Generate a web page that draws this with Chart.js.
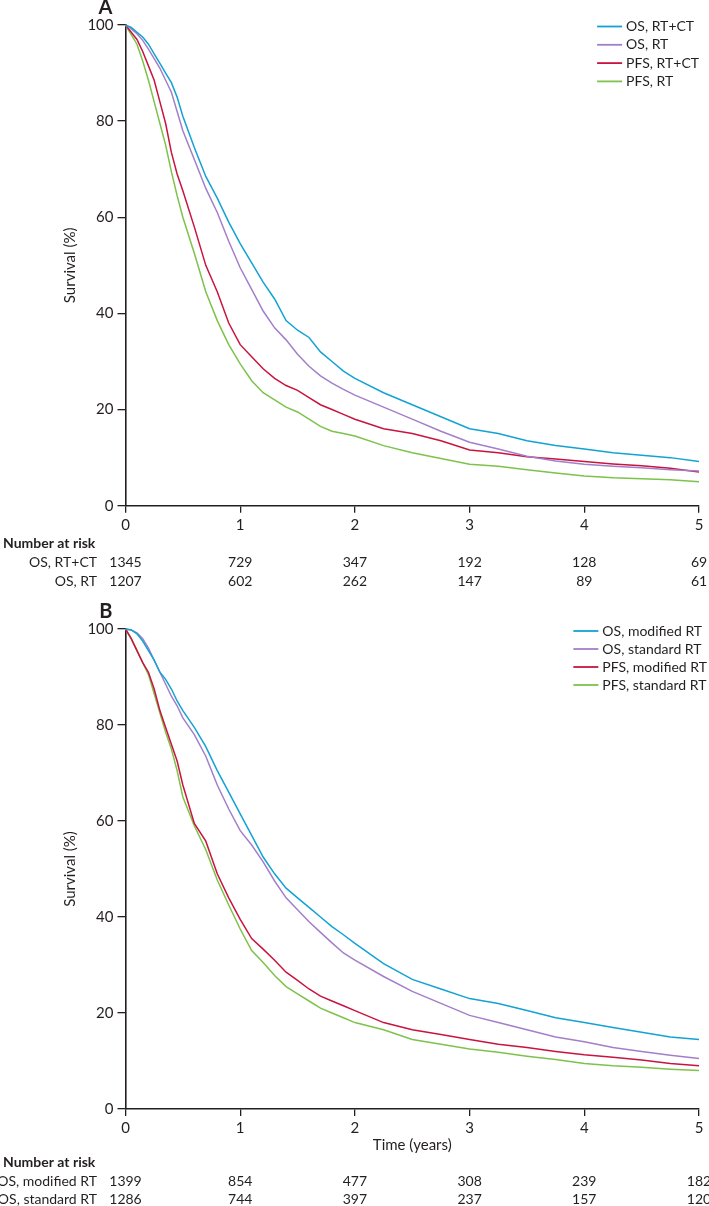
<!DOCTYPE html>
<html><head><meta charset="utf-8">
<script src="https://cdn.jsdelivr.net/npm/chart.js@4"></script>
<style>
html,body{margin:0;padding:0;background:#fff;}
#wrap{position:relative;width:709px;height:1206px;overflow:hidden;}
.box{position:absolute;left:0;width:709px;}
#boxA{top:0;height:600px;}
#boxB{top:600px;height:606px;}
</style></head><body>
<div id="wrap">
<div class="box" id="boxA"><canvas id="cA"></canvas></div>
<div class="box" id="boxB"><canvas id="cB"></canvas></div>
</div>
<script>
// ---- data ----
const years = [0,0.05,0.1,0.15,0.2,0.25,0.3,0.35,0.4,0.45,0.5,0.6,0.7,0.8,0.9,1.0,1.1,1.2,1.3,1.4,1.5,1.6,1.7,1.8,1.9,2.0,2.25,2.5,2.75,3.0,3.25,3.5,3.75,4.0,4.25,4.5,4.75,5.0];
const xTicks = [0,1,2,3,4,5];
const yTicks = [0,20,40,60,80,100];

// Panel A
const labelsA = ['OS, RT+CT','OS, RT','PFS, RT+CT','PFS, RT'];
const osRtCt  = [100,99.5,98.5,97.5,96,94,92,90,88,85,81,74.5,68.5,64,59,54.5,50.5,46.5,43,38.5,36.5,35,32,30,28,26.5,23.5,21,18.5,16,15,13.5,12.5,11.8,11,10.5,10,9.2];
const osRt    = [100,99.2,98.2,96.8,95,93,91,88.5,86,82,78,72,66,61,55,49.5,45,40.5,37,34.5,31.5,29,27,25.5,24.2,23,20.5,18,15.5,13.2,11.8,10.3,9.3,8.6,8.2,7.9,7.5,7.2];
const pfsRtCt = [100,98.5,97,94.5,91.5,88.5,84,79.5,73.5,69,65.5,58,50,44.5,38,33.5,31,28.5,26.5,25,24,22.5,21,20,19,18,16,15,13.5,11.6,11,10.2,9.7,9.2,8.7,8.3,7.8,7.0];
const pfsRt   = [100,98,96,92.5,88.5,84,79.5,75,69.5,64.5,60,52.5,44.5,38.5,33.5,29.5,26,23.5,22,20.5,19.5,18,16.5,15.5,15,14.5,12.5,11,9.8,8.6,8.2,7.5,6.8,6.2,5.8,5.6,5.4,5.0];
const riskRowsA = ['OS, RT+CT','OS, RT'];
const riskOsRtCt = [1345,729,347,192,128,69];
const riskOsRt   = [1207,602,262,147,89,61];

// Panel B
const labelsB = ['OS, modified RT','OS, standard RT','PFS, modified RT','PFS, standard RT'];
const osMod  = [100,99.8,99,97.5,95.5,93.5,91,89.5,87.5,85,83,79.5,75.5,70.5,66,61.5,57,52.5,49,46,44,42,40,38,36.3,34.5,30.3,27,25,23,22,20.5,19,18,17,16,15,14.5];
const osStd  = [100,99.8,99.2,98,96,93.5,91,88.5,86,84,81.5,78,73.5,67.5,62.5,58,55,51.5,47.5,44,41.5,39,36.8,34.6,32.5,31,27.6,24.5,22,19.5,18,16.5,15,14,12.8,12,11.2,10.5];
const pfsMod = [100,98,95.5,93,91,87.5,83,79.5,76,72.5,67.5,59.5,55.8,49,44,39.5,35.5,33.3,31,28.5,26.8,25,23.5,22.5,21.5,20.5,18,16.5,15.5,14.5,13.5,12.8,12,11.3,10.8,10.2,9.5,9];
const pfsStd = [100,98,95.5,93,90.5,86.5,82.5,78.5,75,70.5,65,59,54,47.7,42.5,37.5,33,30.5,27.8,25.5,24,22.5,21,20,19,18,16.5,14.5,13.5,12.5,11.8,11,10.3,9.5,9,8.7,8.3,8];
const riskRowsB = ['OS, modified RT','OS, standard RT'];
const riskOsMod = [1399,854,477,308,239,182];
const riskOsStd = [1286,744,397,237,157,120];

// ---- styling ----
const FONT = "Lato,'Liberation Sans',sans-serif";
const INK = '#231f20';
const COLORS = ['#12a2d4','#a37fc9','#c8143f','#7dc24a'];
Chart.defaults.font.family = FONT;
Chart.defaults.color = INK;

function series(vals){ return years.map((t,i)=>({x:t,y:vals[i]})); }

const extras = {
  id:'extras',
  afterDraw(chart, args, o){
    const ctx = chart.ctx, ca = chart.chartArea, xs = chart.scales.x;
    ctx.save();
    ctx.fillStyle = INK;
    // panel letter
    ctx.font = 'bold 20px ' + FONT;
    ctx.textAlign = 'right'; ctx.textBaseline = 'middle';
    ctx.fillText(o.letter, ca.left - 13, ca.top - 17);
    // legend
    ctx.font = '14px ' + FONT;
    const ds = chart.data.datasets;
    const maxW = Math.max(...ds.map(d => ctx.measureText(d.label).width));
    const tx = o.legendRight - maxW;
    ds.forEach((d,i) => {
      const y = ca.top + o.legendTop + i*o.legendGap;
      ctx.strokeStyle = d.borderColor; ctx.lineWidth = 1.8;
      ctx.beginPath(); ctx.moveTo(tx - 29, y); ctx.lineTo(tx - 4, y); ctx.stroke();
      ctx.textAlign = 'left'; ctx.fillStyle = INK;
      ctx.fillText(d.label, tx, y);
    });
    // number at risk table
    ctx.font = 'bold 14px ' + FONT;
    ctx.textAlign = 'left';
    ctx.fillText('Number at risk', 3, ca.bottom + o.narY);
    ctx.font = '14px ' + FONT;
    o.rows.forEach((r,ri) => {
      const y = ca.bottom + o.rowY[ri];
      ctx.textAlign = 'right';
      ctx.fillText(r.label, 97, y);
      ctx.textAlign = 'center';
      r.values.forEach((v,k) => ctx.fillText(String(v), xs.getPixelForValue(xTicks[k]), y));
    });
    ctx.restore();
  }
};

function makeChart(id, labels, vals, opts){
  const datasets = vals.map((v,i)=>({
    label: labels[i], data: series(v), borderColor: COLORS[i], backgroundColor: COLORS[i],
    borderWidth: 1.5, pointRadius: 0, tension: 0, clip: false, fill: false
  }));
  return new Chart(document.getElementById(id), {
    type: 'line',
    data: { datasets },
    options: {
      responsive: true, maintainAspectRatio: false, animation: false,
      layout: { padding: { top: opts.padTop, left: 0, right: 10, bottom: 0 } },
      plugins: { legend: { display: false }, tooltip: { enabled: false }, extras: opts.extras },
      scales: {
        x: {
          type: 'linear', min: 0, max: 5,
          afterBuildTicks: s => { s.ticks = xTicks.map(v=>({value:v})); },
          ticks: { font: { size: 15 }, color: INK, padding: 3, maxRotation: 0 },
          grid: { drawOnChartArea: false, drawTicks: true, tickLength: 7, color: INK, lineWidth: 1.3 },
          border: { display: true, color: INK, width: 1.6 },
          title: opts.xTitle ? { display: true, text: opts.xTitle, font: { size: 15 }, color: INK, padding: { top: 0, bottom: 52 } } : { display: false },
          afterFit: s => { s.height = opts.xHeight; }
        },
        y: {
          type: 'linear', min: 0, max: 100,
          afterBuildTicks: s => { s.ticks = yTicks.map(v=>({value:v})); },
          ticks: { font: { size: 15 }, color: INK, padding: 4 },
          grid: { drawOnChartArea: false, drawTicks: true, tickLength: 8, color: INK, lineWidth: 1.3 },
          border: { display: true, color: INK, width: 1.6 },
          title: { display: true, text: 'Survival (%)', font: { size: 15 }, color: INK, padding: { top: 61, bottom: 0 } },
          afterFit: s => { s.width = 125.5; }
        }
      }
    },
    plugins: [extras]
  });
}

makeChart('cA', labelsA, [osRtCt, osRt, pfsRtCt, pfsRt], {
  padTop: 25, xHeight: 94.3,
  extras: { letter: 'A', legendRight: 699, legendTop: 1.5, legendGap: 18.3, narY: 37.5,
    rowY: [57, 76],
    rows: [{label: riskRowsA[0], values: riskOsRtCt}, {label: riskRowsA[1], values: riskOsRt}] }
});
makeChart('cB', labelsB, [osMod, osStd, pfsMod, pfsStd], {
  padTop: 29, xHeight: 97, xTitle: 'Time (years)',
  extras: { letter: 'B', legendRight: 707, legendTop: 2, legendGap: 18, narY: 53,
    rowY: [72, 90],
    rows: [{label: riskRowsB[0], values: riskOsMod}, {label: riskRowsB[1], values: riskOsStd}] }
});
</script>
</body></html>
